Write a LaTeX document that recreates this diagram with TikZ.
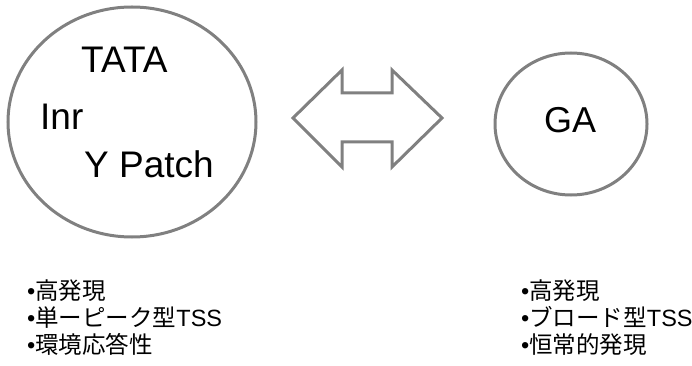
\documentclass[tikz,border=0pt]{standalone}
\usepackage{fontspec}
\setmainfont{Liberation Sans}
\newfontfamily\jp{Noto Sans CJK JP}
\usetikzlibrary{shapes.geometric}
\definecolor{edgegray}{RGB}{128,128,128}
\tikzset{
  x=1pt, y=-1pt,
  ring/.style={draw=edgegray, line width=3pt, ellipse, inner sep=0pt},
  bigtxt/.style={anchor=base west, inner sep=0pt, font=\fontsize{37}{42}\selectfont},
  listtxt/.style={anchor=base west, inner sep=0pt, font=\fontsize{23.5}{27}\selectfont},
}
\begin{document}
\begin{tikzpicture}
\useasboundingbox (0,0) rectangle (692,366);
% left ellipse
\node[ring, minimum width=248pt, minimum height=230pt] (L) at (132,122) {};
\node[bigtxt] (tata) at (81,73) {TATA};
\node[bigtxt] (inr) at (40,130) {Inr};
\node[bigtxt] (yp) at (84,177) {Y Patch};
% right circle
\node[ring, minimum width=152pt, minimum height=142pt] (R) at (571,124) {};
\node[bigtxt, anchor=base, font=\fontsize{36}{40}\selectfont] (ga) at (570,132) {GA};
% double arrow
\draw[edgegray, line width=3pt, line join=miter]
  (293,118) -- (342,70) -- (342,93) -- (392,93) -- (392,70) -- (442,118)
  -- (392,167) -- (392,142) -- (342,142) -- (342,167) -- cycle;
% lists
\node[listtxt] (l1) at (27,299) {•{\jp 高発現}};
\node[listtxt] (l2) at (27,326) {•{\jp 単ーピーク型}TSS};
\node[listtxt] (l3) at (27,353) {•{\jp 環境応答性}};
\node[listtxt] (r1) at (521,299) {•{\jp 高発現}};
\node[listtxt] (r2) at (521,326) {•{\jp ブロード型}TSS};
\node[listtxt] (r3) at (521,353) {•{\jp 恒常的発現}};
\end{tikzpicture}
\end{document}
